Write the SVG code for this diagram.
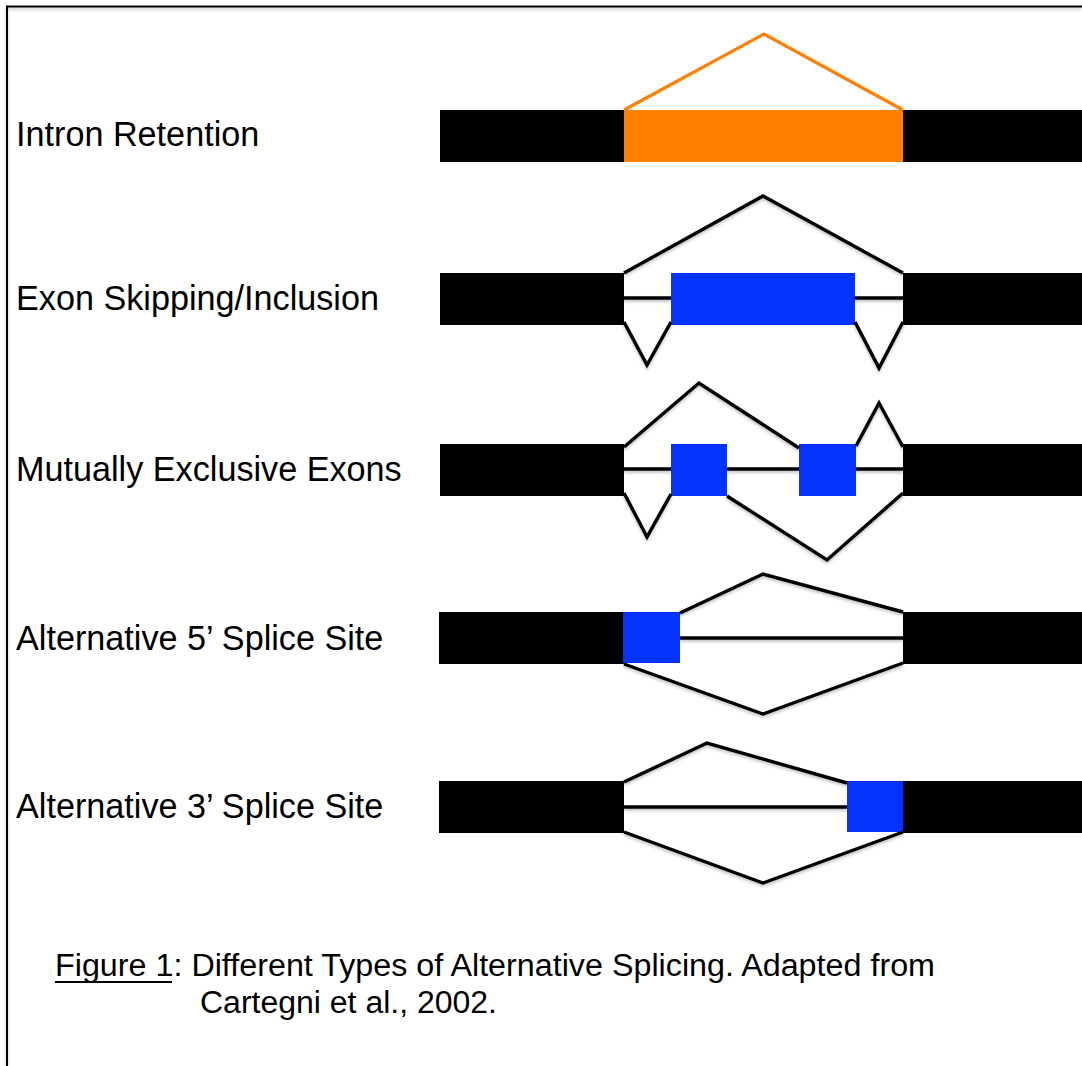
<svg xmlns="http://www.w3.org/2000/svg" width="1082" height="1066" viewBox="0 0 1082 1066">
  <defs>
    <filter id="sh" filterUnits="userSpaceOnUse" x="0" y="0" width="1082" height="1066">
      <feDropShadow dx="0" dy="2" stdDeviation="1.5" flood-color="#000" flood-opacity="0.25"/>
    </filter>
  </defs>
  <style>
    .exon{fill:#000000}
    .orange{fill:#FF7F00}
    .blue{fill:#0433FF}
    .lbl{font-family:"Liberation Sans",Arial,Helvetica,sans-serif;font-size:34.2px;fill:#000}
    .cap{font-family:"Liberation Sans",Arial,Helvetica,sans-serif;font-size:31px;fill:#000}
    .ln{fill:none;stroke:#000;stroke-width:3.4;stroke-linejoin:miter;filter:url(#sh)}
    .lno{fill:none;stroke:#FF7F00;stroke-width:3.2;stroke-linejoin:miter}
    .frame{fill:none;stroke:#000;stroke-width:2}
  </style>
  <rect width="1082" height="1066" fill="#fff"/>
  <path class="frame" d="M7,1066 V6.5 H1082" filter="url(#sh)"/>

  <!-- Labels -->
  <g id="labels">
    <text class="lbl" x="16" y="146">Intron Retention</text>
    <text class="lbl" x="16" y="310">Exon Skipping/Inclusion</text>
    <text class="lbl" x="16" y="481">Mutually Exclusive Exons</text>
    <text class="lbl" x="16" y="650">Alternative 5’ Splice Site</text>
    <text class="lbl" x="16" y="818">Alternative 3’ Splice Site</text>
  </g>

  <!-- Row 1: Intron Retention -->
  <g id="r1-left"><rect class="exon" x="440" y="110" width="184" height="52"/></g>
  <g id="r1-intron"><rect class="orange" x="624" y="110" width="279" height="52"/></g>
  <g id="r1-right"><rect class="exon" x="903" y="110" width="179" height="52"/></g>

  <!-- Row 2: Exon Skipping -->
  <g id="r2-left"><rect class="exon" x="440" y="273" width="184" height="52"/></g>
  <g id="r2-exon"><rect class="blue" x="671" y="273" width="184" height="52"/></g>
  <g id="r2-right"><rect class="exon" x="903" y="273" width="179" height="52"/></g>

  <!-- Row 3: Mutually Exclusive -->
  <g id="r3-left"><rect class="exon" x="440" y="444" width="184" height="52"/></g>
  <g id="r3-exon1"><rect class="blue" x="671" y="444" width="56" height="52"/></g>
  <g id="r3-exon2"><rect class="blue" x="799" y="444" width="57" height="52"/></g>
  <g id="r3-right"><rect class="exon" x="903" y="444" width="179" height="52"/></g>

  <!-- Row 4: Alt 5' -->
  <g id="r4-left"><rect class="exon" x="439" y="612" width="185" height="52"/></g>
  <g id="r4-alt"><rect class="blue" x="623" y="612" width="57" height="51"/></g>
  <g id="r4-right"><rect class="exon" x="903" y="612" width="179" height="52"/></g>

  <!-- Row 5: Alt 3' -->
  <g id="r5-left"><rect class="exon" x="439" y="781" width="185" height="52"/></g>
  <g id="r5-alt"><rect class="blue" x="847" y="781" width="56" height="51"/></g>
  <g id="r5-right"><rect class="exon" x="903" y="781" width="179" height="52"/></g>

  <!-- Connectors -->
  <g id="connectors">
    <polyline class="lno" points="624,110 764,34 903,110"/>

    <polyline class="ln" points="624,273 763,196 903,273"/>
    <line class="ln" x1="624" y1="298" x2="671" y2="298"/>
    <line class="ln" x1="855" y1="298" x2="903" y2="298"/>
    <polyline class="ln" points="624,322 647,365 671,322"/>
    <polyline class="ln" points="855,322 879,368 903,322"/>

    <line class="ln" x1="624" y1="469" x2="671" y2="469"/>
    <line class="ln" x1="727" y1="469" x2="799" y2="469"/>
    <line class="ln" x1="856" y1="469" x2="903" y2="469"/>
    <polyline class="ln" points="624,447 699,383 799,448"/>
    <polyline class="ln" points="856,446 879,403 903,447"/>
    <polyline class="ln" points="624,493 647,537 671,494"/>
    <polyline class="ln" points="727,496 827,560 903,493"/>

    <line class="ln" x1="680" y1="638" x2="903" y2="638"/>
    <polyline class="ln" points="680,613 763,574 903,612"/>
    <polyline class="ln" points="624,664 763,714 903,663"/>

    <line class="ln" x1="624" y1="807" x2="847" y2="807"/>
    <polyline class="ln" points="624,782 707,743 847,783"/>
    <polyline class="ln" points="624,832 763,883 903,832"/>
  </g>

  <!-- Caption -->
  <g id="caption">
    <text class="cap" x="55" y="976" textLength="880" lengthAdjust="spacingAndGlyphs">Figure 1: Different Types of Alternative Splicing. Adapted from</text>
    <line x1="55" y1="982" x2="172" y2="982" stroke="#000" stroke-width="2"/>
    <text class="cap" x="200" y="1013" textLength="297" lengthAdjust="spacingAndGlyphs">Cartegni et al., 2002.</text>
  </g>
</svg>
